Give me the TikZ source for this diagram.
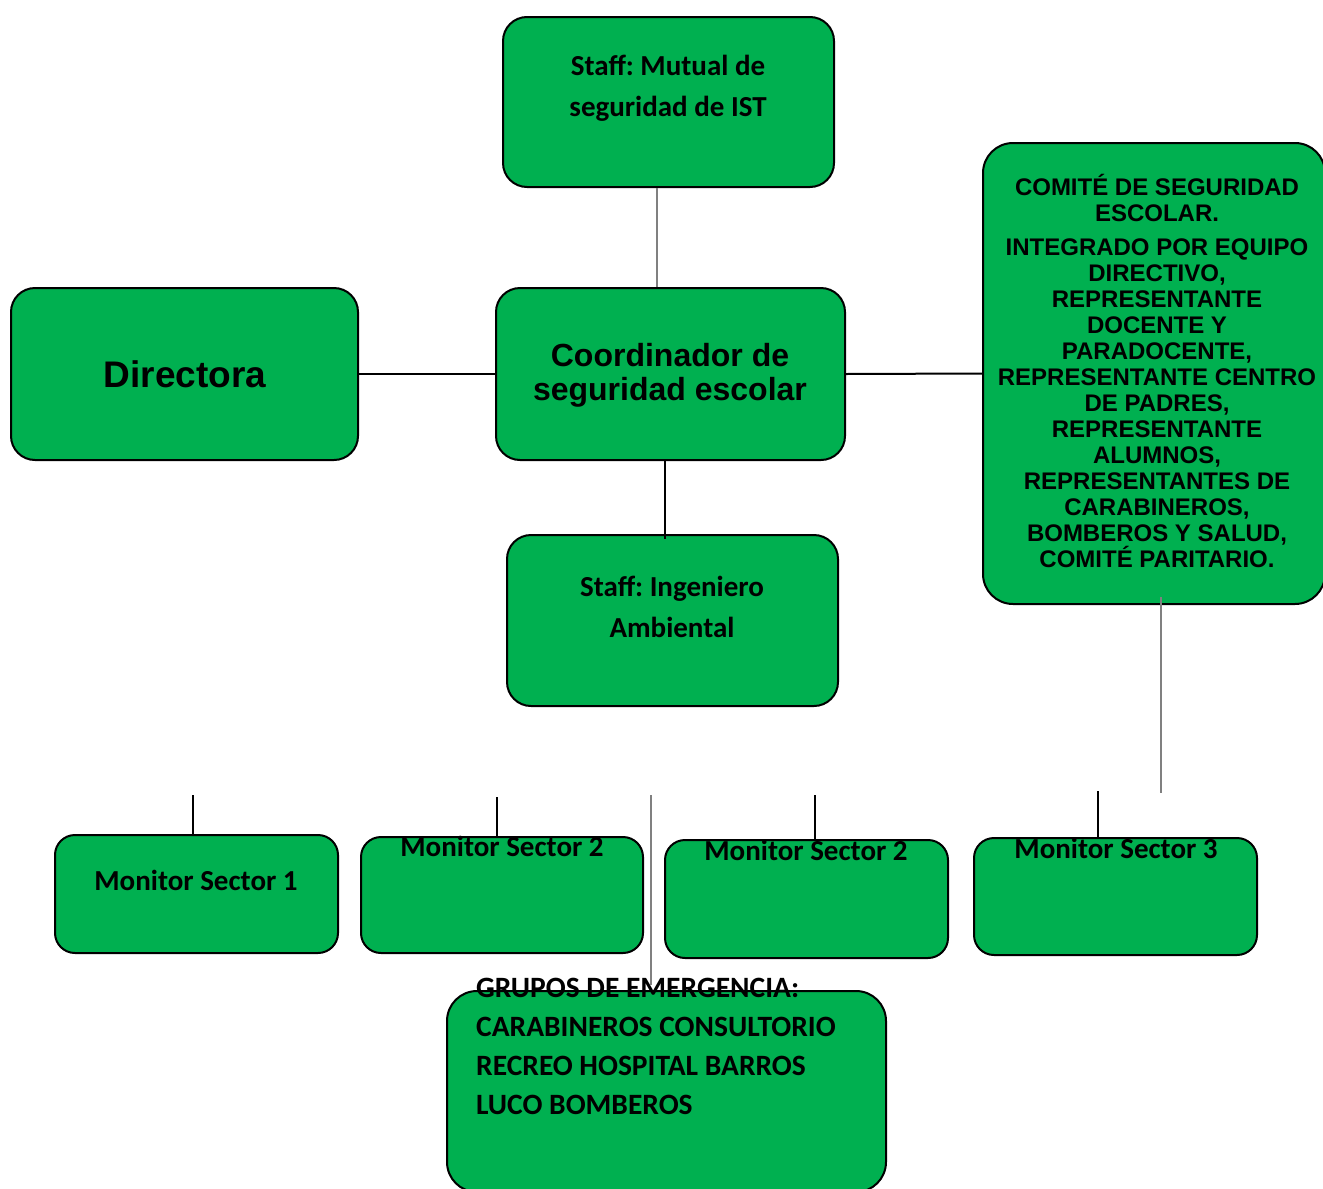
\documentclass[tikz,border=0pt]{standalone}
\usepackage{fontspec}
\newfontfamily\cali{Carlito}
\newfontfamily\ari{Liberation Sans}
\definecolor{boxgreen}{HTML}{00B050}
\definecolor{linegray}{HTML}{808080}
\frenchspacing
\tikzset{
  box/.style={draw=black, line width=2pt, fill=boxgreen, rounded corners=24pt, inner sep=0pt},
  smallbox/.style={box, rounded corners=20pt},
  txt/.style={inner sep=0pt, align=center, text=black},
  blackline/.style={draw=black, line width=2pt},
  grayline/.style={draw=linegray, line width=2pt},
}
\begin{document}
\begin{tikzpicture}[x=1pt, y=-1pt]
\useasboundingbox (0,0) rectangle (1323,1189);
\clip (0,0) rectangle (1323,1189);
\fill[white] (0,0) rectangle (1323,1189);
% boxes
\node[box, minimum width=331pt, minimum height=170pt] (mutual) at (668.5,102) {};
\node[box, minimum width=349pt, minimum height=172pt] (coord) at (670.5,374) {};
\node[box, minimum width=347pt, minimum height=172pt] (dir) at (184.5,374) {};
\node[box, rounded corners=30pt, minimum width=342pt, minimum height=461pt] (comite) at (1154,373.5) {};
\node[box, minimum width=331pt, minimum height=171pt] (ing) at (672.5,620.5) {};
\node[smallbox, minimum width=283pt, minimum height=118pt] (mon1) at (196.5,894) {};
\node[smallbox, minimum width=282pt, minimum height=116pt] (mon2a) at (502,895) {};
\node[smallbox, minimum width=283pt, minimum height=118pt] (mon2b) at (806.5,899) {};
\node[smallbox, minimum width=283pt, minimum height=117pt] (mon3) at (1115.5,896.5) {};
\node[box, rounded corners=30pt, minimum width=439pt, minimum height=201pt] (grupos) at (666.5,1091.5) {};
% helper coordinates
\coordinate (xm) at (657,0);
\coordinate (xi) at (665,0);
\coordinate (xc) at (1161,0);
\coordinate (cend) at (1161,793);
\coordinate (s1) at (193,795);
\coordinate (s2) at (497,797);
\coordinate (s3) at (815,795);
\coordinate (s4) at (1098,791);
\coordinate (g1) at (651,795);
\coordinate (g1end) at (651,985);
% connectors
\draw[grayline] (mutual.south -| xm) -- (coord.north -| xm);
\draw[blackline] (dir.east) -- (coord.west);
\draw[blackline] (coord.east) -- (comite.west);
\draw[blackline] (coord.south -| xi) -- ([yshift=-5pt]ing.north -| xi);
\draw[grayline] ([yshift=8pt]comite.south -| xc) -- (cend);
\draw[blackline] (s1) -- (mon1.north -| s1);
\draw[blackline] (s2) -- (mon2a.north -| s2);
\draw[blackline] (s3) -- (mon2b.north -| s3);
\draw[blackline] (s4) -- (mon3.north -| s4);
\draw[grayline] (g1) -- (g1end);
% texts
\node[txt, font={\cali\bfseries\fontsize{29}{41}\selectfont}] (tmutual) at (668,88) {Staff: Mutual de\\seguridad de IST};
\node[txt, font={\ari\bfseries\fontsize{32}{34}\selectfont}] (tcoord) at (670,375) {Coordinador de\\seguridad escolar};
\node[txt, font={\ari\bfseries\fontsize{37}{40}\selectfont}] (tdir) at (185,374) {Directora};
\node[txt, font={\ari\bfseries\fontsize{24}{26}\selectfont}] (tcomite) at (1157,371) {COMITÉ DE SEGURIDAD\\ESCOLAR.\\[8pt]INTEGRADO POR EQUIPO\\DIRECTIVO,\\REPRESENTANTE\\DOCENTE Y\\PARADOCENTE,\\REPRESENTANTE CENTRO\\DE PADRES,\\REPRESENTANTE\\ALUMNOS,\\REPRESENTANTES DE\\CARABINEROS,\\BOMBEROS Y SALUD,\\COMITÉ PARITARIO.};
\node[txt, font={\cali\bfseries\fontsize{29}{41}\selectfont}] (ting) at (672,607) {Staff: Ingeniero\\Ambiental};
\node[txt, font={\cali\bfseries\fontsize{29}{35}\selectfont}] (tmon1) at (196,880) {Monitor Sector 1};
\node[txt, font={\cali\bfseries\fontsize{29}{35}\selectfont}] (tmon2a) at (502,846) {Monitor Sector 2};
\node[txt, font={\cali\bfseries\fontsize{29}{35}\selectfont}] (tmon2b) at (806,850) {Monitor Sector 2};
\node[txt, font={\cali\bfseries\fontsize{29}{35}\selectfont}] (tmon3) at (1116,848) {Monitor Sector 3};
\node[txt, align=left, anchor=west, font={\cali\bfseries\fontsize{29.5}{39}\selectfont}] (tgrupos) at (476,1046) {GRUPOS DE EMERGENCIA:\\CARABINEROS CONSULTORIO\\RECREO HOSPITAL BARROS\\LUCO BOMBEROS};
\end{tikzpicture}
\end{document}
